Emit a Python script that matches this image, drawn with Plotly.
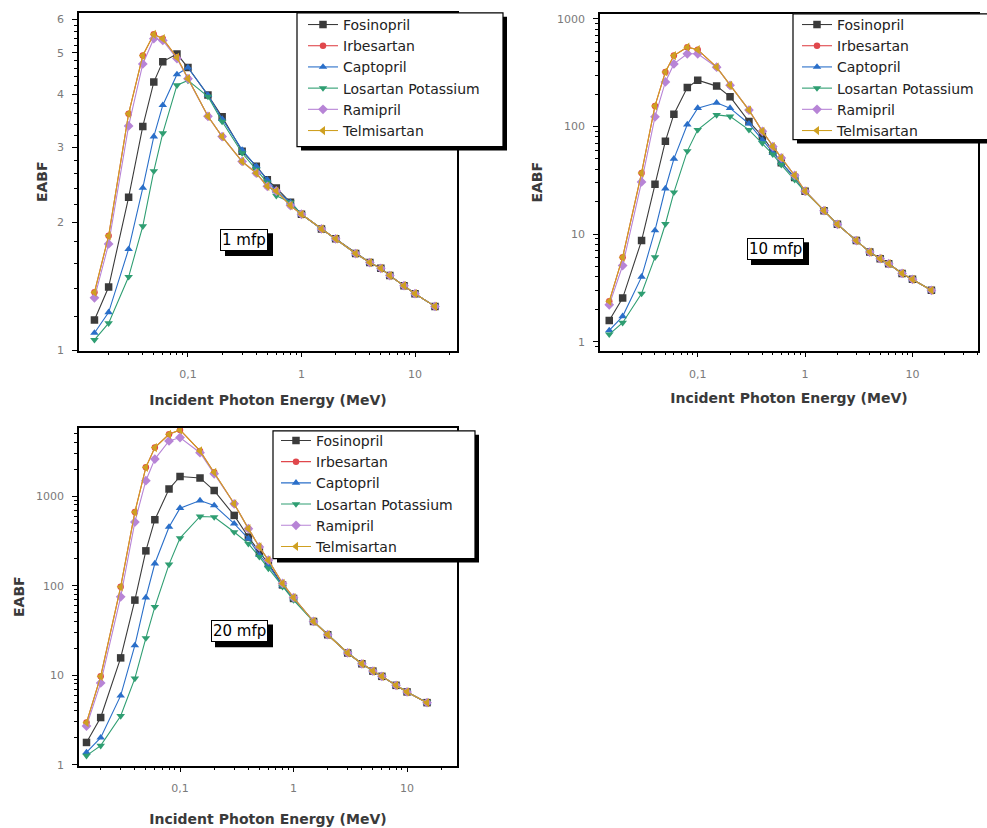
import plotly.graph_objects as go

W, H = 987, 828

# ---------------- data ----------------
energy = [0.015, 0.02, 0.03, 0.04, 0.05, 0.06, 0.08, 0.1, 0.15, 0.2, 0.3, 0.4, 0.5,
          0.6, 0.8, 1, 1.5, 2, 3, 4, 5, 6, 8, 10, 15]

drugs = ["Fosinopril", "Irbesartan", "Captopril", "Losartan Potassium", "Ramipril", "Telmisartan"]

# 1 mfp
fos_1 = [1.18, 1.41, 2.29, 3.36, 4.27, 4.77, 4.97, 4.62, 3.98, 3.54, 2.94, 2.71, 2.52, 2.41, 2.23, 2.09,
         1.93, 1.83, 1.69, 1.61, 1.56, 1.50, 1.42, 1.36, 1.27]
irb_1 = [1.37, 1.86, 3.60, 4.93, 5.53, 5.40, 4.88, 4.35, 3.55, 3.18, 2.78, 2.61, 2.43, 2.37, 2.19, 2.09,
         1.93, 1.83, 1.69, 1.61, 1.56, 1.50, 1.42, 1.36, 1.27]
cap_1 = [1.10, 1.23, 1.73, 2.41, 3.18, 3.77, 4.45, 4.62, 3.98, 3.50, 2.96, 2.71, 2.52, 2.37, 2.23, 2.09,
         1.93, 1.83, 1.69, 1.61, 1.56, 1.50, 1.42, 1.36, 1.27]
los_1 = [1.06, 1.16, 1.49, 1.96, 2.64, 3.24, 4.20, 4.31, 3.95, 3.45, 2.91, 2.66, 2.48, 2.31, 2.23, 2.09,
         1.93, 1.83, 1.69, 1.61, 1.56, 1.50, 1.42, 1.36, 1.27]
ram_1 = [1.33, 1.78, 3.37, 4.71, 5.40, 5.35, 4.85, 4.35, 3.55, 3.18, 2.78, 2.61, 2.43, 2.37, 2.19, 2.09,
         1.93, 1.83, 1.69, 1.61, 1.56, 1.50, 1.42, 1.36, 1.27]
tel_1 = [1.37, 1.86, 3.60, 4.93, 5.53, 5.40, 4.88, 4.35, 3.55, 3.18, 2.78, 2.61, 2.43, 2.37, 2.19, 2.09,
         1.93, 1.83, 1.69, 1.61, 1.56, 1.50, 1.42, 1.36, 1.27]

# 10 mfp
fos_10 = [1.57, 2.54, 8.7, 29, 73, 130, 230, 269, 237, 189, 111, 81, 59, 46, 33.5, 25,
          16.5, 12.3, 8.7, 6.8, 5.9, 5.3, 4.3, 3.8, 3.0]
irb_10 = [2.37, 6.1, 37, 155, 321, 456, 545, 517, 356, 241, 142, 90, 65, 51, 35, 25,
          16.5, 12.3, 8.7, 6.8, 5.9, 5.3, 4.3, 3.8, 3.0]
cap_10 = [1.27, 1.72, 4.0, 10.8, 26.5, 50, 104, 148, 166, 148, 106, 75, 57, 46, 33.5, 25,
          16.5, 12.3, 8.7, 6.8, 5.9, 5.3, 4.3, 3.8, 3.0]
los_10 = [1.17, 1.50, 2.8, 6.1, 12.4, 24.4, 59, 93, 128, 124, 93, 70, 55, 44, 32, 24.6,
          16.5, 12.3, 8.7, 6.8, 5.9, 5.3, 4.3, 3.8, 3.0]
ram_10 = [2.2, 5.1, 30.5, 123, 259, 381, 473, 473, 355, 241, 142, 90, 65, 51, 35, 25,
          16.5, 12.3, 8.7, 6.8, 5.9, 5.3, 4.3, 3.8, 3.0]
tel_10 = [2.37, 6.1, 37, 155, 321, 456, 545, 517, 356, 241, 142, 90, 65, 51, 35, 25,
          16.5, 12.3, 8.7, 6.8, 5.9, 5.3, 4.3, 3.8, 3.0]

# 20 mfp
fos_20 = [1.77, 3.36, 15.6, 69, 245, 546, 1200, 1660, 1600, 1157, 610, 350, 239, 177, 102, 72,
          39.8, 28.3, 17.7, 13.4, 11.1, 9.7, 7.7, 6.5, 4.93]
irb_20 = [2.95, 9.7, 97, 664, 2100, 3500, 4920, 5500, 3210, 1850, 822, 434, 271, 193, 106, 73.6,
          39.8, 28.3, 17.7, 13.4, 11.1, 9.7, 7.7, 6.5, 4.93]
cap_20 = [1.37, 2.0, 5.9, 21.5, 73.6, 177, 453, 736, 895, 788, 493, 336, 219, 170, 100, 72,
          39.8, 28.3, 17.7, 13.4, 11.1, 9.7, 7.7, 6.5, 4.93]
los_20 = [1.26, 1.63, 3.5, 9.2, 26, 58, 173, 341, 594, 585, 398, 295, 210, 156, 97, 69,
          39.8, 28.3, 17.7, 13.4, 11.1, 9.7, 7.7, 6.5, 4.93]
ram_20 = [2.7, 8.2, 75, 514, 1490, 2600, 4150, 4530, 3060, 1780, 822, 434, 271, 193, 106, 73.6,
          39.8, 28.3, 17.7, 13.4, 11.1, 9.7, 7.7, 6.5, 4.93]
tel_20 = [2.95, 9.7, 97, 664, 2100, 3500, 4920, 5500, 3210, 1850, 822, 434, 271, 193, 106, 73.6,
          39.8, 28.3, 17.7, 13.4, 11.1, 9.7, 7.7, 6.5, 4.93]

panel_labels = ["1 mfp", "10 mfp", "20 mfp"]
x_ticks = [0.1, 1, 10]
x_ticktext = ["0,1", "1", "10"]
y1_ticks = [1, 2, 3, 4, 5, 6]
y_log_ticks = [1, 10, 100, 1000]

# ---------------- style ----------------
colors = ["#3b3b3b", "#e0474c", "#2a6fc9", "#2f9e72", "#b784d6", "#cfa021"]
symbols = ["square", "circle", "triangle-up", "triangle-down", "diamond", "triangle-left"]
msizes = [7.5, 6.5, 7.5, 7.5, 7.5, 8]
FONT = "DejaVu Sans"

series = [
    [fos_1, irb_1, cap_1, los_1, ram_1, tel_1],
    [fos_10, irb_10, cap_10, los_10, ram_10, tel_10],
    [fos_20, irb_20, cap_20, los_20, ram_20, tel_20],
]

# pixel boxes of the three plot areas: (left, right, top, bottom)
boxes = [(79, 457, 12, 353), (600, 978, 13, 353), (79, 457, 431, 772)]
xranges = [[-1.96, 1.37], [-1.91, 1.61], [-1.89, 1.44]]
yranges = [[0, 0.793], [-0.083, 3.046], [-0.01, 3.764]]

fig = go.Figure()
legend_names = ["legend", "legend2", "legend3"]
for p in range(3):
    ax = "" if p == 0 else str(p + 1)
    for i, name in enumerate(drugs):
        fig.add_trace(go.Scatter(
            x=energy, y=series[p][i], name=name, mode="lines+markers",
            line=dict(color=colors[i], width=1.1),
            marker=dict(color=colors[i], symbol=symbols[i], size=msizes[i]),
            xaxis="x" + ax, yaxis="y" + ax, legend=legend_names[p],
        ))


def px(x):
    return x / W


def py(y):
    return 1 - y / H


minor_y1 = [v / 10 for v in range(11, 62) if v % 10 != 0 and v % 2 == 0]
minor_log = [m * 10 ** k for k in range(-1, 4) for m in range(2, 10)]
minor_x = [m * 10 ** k for k in range(-3, 2) for m in range(2, 10)]

layout = dict(
    width=W, height=H, margin=dict(l=0, r=0, t=0, b=0),
    paper_bgcolor="white", plot_bgcolor="white",
    font=dict(family=FONT, color="#333"),
    shapes=[], annotations=[],
)

title_font = dict(family=FONT, size=14, color="#3a3a3a", weight="bold")
tick_font = dict(family=FONT, size=11, color="#7a7a7a")
y_standoff = [6, 11, 8]
x_standoff = [16, 14, 20]

for p in range(3):
    l, r, t, b = boxes[p]
    ax = "" if p == 0 else str(p + 1)
    layout["xaxis" + ax] = dict(
        type="log", domain=[px(l), px(r)], range=xranges[p], anchor="y" + ax,
        tickvals=x_ticks, ticktext=x_ticktext, ticks="outside", ticklen=5, tickwidth=1,
        tickcolor="black", showline=True, linecolor="black", linewidth=1.5, mirror=True,
        showgrid=False, zeroline=False, tickfont=tick_font, ticklabelstandoff=7,
        minor=dict(tickvals=minor_x, ticks="outside", ticklen=3, tickcolor="black", showgrid=False),
        title=dict(text="Incident Photon Energy (MeV)", font=title_font, standoff=x_standoff[p]),
    )
    if p == 0:
        yt, ytt, ymin = y1_ticks, [str(v) for v in y1_ticks], minor_y1
    else:
        yt, ytt, ymin = y_log_ticks, [str(v) for v in y_log_ticks], minor_log
    layout["yaxis" + ax] = dict(
        type="log", domain=[py(b), py(t)], range=yranges[p], anchor="x" + ax,
        tickvals=yt, ticktext=ytt, ticks="outside", ticklen=5, tickwidth=1,
        tickcolor="black", showline=True, linecolor="black", linewidth=1.5, mirror=True,
        showgrid=False, zeroline=False, tickfont=tick_font, ticklabelstandoff=6,
        minor=dict(tickvals=ymin, ticks="outside", ticklen=3, tickcolor="black", showgrid=False),
        title=dict(text="EABF", font=title_font, standoff=y_standoff[p]),
    )

# legend frames drawn as boxes with drop shadows (left, top, right, bottom) in pixels
legend_box = [(297, 12, 503, 147), (793, 13, 995, 140), (273, 434, 475, 563)]
# legend text anchor (left, top) in pixels
legend_pos = [(303, 8), (797, 8), (276, 428)]
for p in range(3):
    l, t, r, b = legend_box[p]
    layout["shapes"].append(dict(
        type="rect", xref="paper", yref="paper",
        x0=px(l + 4), x1=px(r + 4), y0=py(b + 4), y1=py(t + 4),
        fillcolor="black", line=dict(width=0), layer="above",
    ))
    layout["shapes"].append(dict(
        type="rect", xref="paper", yref="paper",
        x0=px(l), x1=px(r), y0=py(b), y1=py(t),
        fillcolor="white", line=dict(color="black", width=1.2), layer="above",
    ))
    lx, ly = legend_pos[p]
    layout[legend_names[p]] = dict(
        x=px(lx), y=py(ly), xanchor="left", yanchor="top",
        bgcolor="rgba(0,0,0,0)", borderwidth=0,
        font=dict(family=FONT, size=14, color="#222"), tracegroupgap=0,
    )

# panel labels with shadow boxes (center in pixels)
label_pos = [(244, 241), (775, 250), (239, 636)]
label_size = [(48, 23), (58, 23), (58, 23)]
for p in range(3):
    cx, cy = label_pos[p]
    w, h = label_size[p]
    layout["shapes"].append(dict(
        type="rect", xref="paper", yref="paper",
        x0=px(cx - w / 2 + 5), x1=px(cx + w / 2 + 5), y0=py(cy + h / 2 + 5), y1=py(cy - h / 2 + 5),
        fillcolor="black", line=dict(width=0), layer="above",
    ))
    layout["annotations"].append(dict(
        text=panel_labels[p], xref="paper", yref="paper", x=px(cx), y=py(cy),
        xanchor="center", yanchor="middle", showarrow=False,
        font=dict(family=FONT, size=15, color="black"),
        bgcolor="white", bordercolor="black", borderwidth=1, borderpad=1,
    ))

fig.update_layout(**layout)
fig.write_html("out.html")
